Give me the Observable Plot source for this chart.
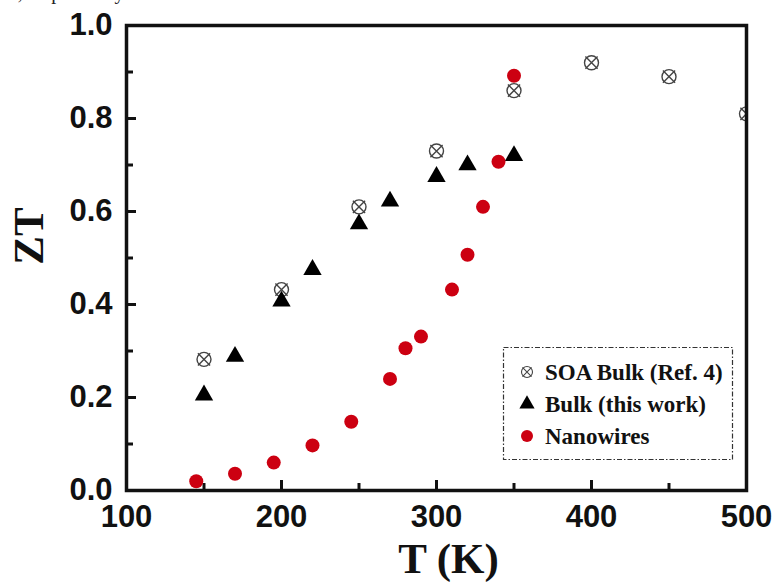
<!DOCTYPE html>
<html><head><meta charset="utf-8">
<script src="https://cdn.jsdelivr.net/npm/d3@7"></script>
<script src="https://cdn.jsdelivr.net/npm/@observablehq/plot@0.6"></script>
<style>
body{margin:0;background:#fff;overflow:hidden}
#wrap{position:relative;width:774px;height:583px;overflow:hidden}
#top{position:absolute;left:12px;top:-19px;font:20px "Liberation Serif";color:#222;white-space:nowrap}
#legend{position:absolute;left:0;top:0;pointer-events:none}
</style></head><body><div id="wrap"><div id="top">r, respectively</div></div>
<script>
// ---- data ----
const soaT  = [150, 200, 250, 300, 350, 400, 450, 500];
const soaZT = [0.282, 0.432, 0.61, 0.73, 0.86, 0.92, 0.89, 0.81];
const bulkT  = [150, 170, 200, 220, 250, 270, 300, 320, 350];
const bulkZT = [0.205, 0.288, 0.407, 0.475, 0.573, 0.622, 0.675, 0.70, 0.72];
const nwT  = [145, 170, 195, 220, 245, 270, 280, 290, 310, 320, 330, 340, 350];
const nwZT = [0.02, 0.036, 0.06, 0.097, 0.148, 0.24, 0.306, 0.331, 0.432, 0.507, 0.61, 0.707, 0.892];
const xMajor = [100, 200, 300, 400, 500];
const xMinor = [150, 250, 350, 450];
const yMajor = [0, 0.2, 0.4, 0.6, 0.8, 1.0];
const yMinor = [0.1, 0.3, 0.5, 0.7, 0.9];
const legendLabels = ["SOA Bulk (Ref. 4)", "Bulk (this work)", "Nanowires"];
const xTitle = "T (K)";
const yTitle = "ZT";

const soa = soaT.map((t, i) => ({T: t, ZT: soaZT[i]}));
const bulk = bulkT.map((t, i) => ({T: t, ZT: bulkZT[i]}));
const nw = nwT.map((t, i) => ({T: t, ZT: nwZT[i]}));

const RED = "#cc0011";
const GRAY = "#444";
const tickFont = {fontSize: 31, fontWeight: "bold", fontFamily: "Liberation Sans, Arial, sans-serif"};
const titleFont = {fontSize: 43, fontWeight: "bold", fontFamily: "Liberation Serif, Times New Roman, serif", fill: "#111", textAnchor: "middle", lineAnchor: "middle"};

const chart = Plot.plot({
  width: 774,
  height: 583,
  marginLeft: 126,
  marginRight: 28,
  marginTop: 25,
  marginBottom: 93,
  style: {background: "transparent", overflow: "visible"},
  x: {domain: [100, 500]},
  y: {domain: [0, 1]},
  marks: [
    // ticks (inward)
    Plot.axisX(xMajor, {tickSize: -10, strokeWidth: 3, stroke: "#111", tickFormat: () => "", label: null}),
    Plot.axisX(xMinor, {tickSize: -7, strokeWidth: 3, stroke: "#111", tickFormat: () => "", label: null}),
    Plot.axisY(yMajor, {tickSize: -10, strokeWidth: 3, stroke: "#111", tickFormat: () => "", label: null}),
    Plot.axisY(yMinor, {tickSize: -7, strokeWidth: 3, stroke: "#111", tickFormat: () => "", label: null}),
    // tick labels
    Plot.axisX(xMajor, {tickSize: 0, tickPadding: 14, tickFormat: d3.format("d"), label: null, fill: "#111", ...tickFont}),
    Plot.axisY(yMajor, {tickSize: 0, tickPadding: 14, tickFormat: d3.format(".1f"), label: null, fill: "#111", ...tickFont}),
    // data
    Plot.dot(soa, {x: "T", y: "ZT", r: 7, fill: "none", stroke: GRAY, strokeWidth: 1.4, clip: true}),
    Plot.dot(soa, {x: "T", y: "ZT", symbol: "times", r: 5.6, stroke: GRAY, strokeWidth: 1.4, clip: true}),
    Plot.dot(bulk, {x: "T", y: "ZT", symbol: "triangle", r: 6.8, fill: "#000", stroke: "none"}),
    Plot.dot(nw, {x: "T", y: "ZT", r: 7, fill: RED, stroke: "none"}),
    Plot.frame({stroke: "#111", strokeWidth: 3.5}),
    // axis titles
    Plot.text([xTitle], {frameAnchor: "bottom", dx: 12, dy: 69, ...titleFont}),
    Plot.text([yTitle], {frameAnchor: "left", dx: -97, dy: -22, rotate: -90, ...titleFont})
  ]
});
chart.style.position = "absolute";
chart.style.left = "0px";
chart.style.top = "0px";
document.getElementById("wrap").appendChild(chart);

// ---- legend ----
const lg = d3.select("#wrap").append("svg").attr("id", "legend")
  .attr("width", 774).attr("height", 583);
lg.append("rect").attr("x", 503.5).attr("y", 347.5).attr("width", 229).attr("height", 112)
  .attr("fill", "none").attr("stroke", "#333").attr("stroke-width", 1.2)
  .attr("stroke-dasharray", "5,2,1.5,2");
const rows = [372, 404, 436];
const sx = 527;
// SOA symbol
lg.append("circle").attr("cx", sx).attr("cy", rows[0]).attr("r", 5.5)
  .attr("fill", "none").attr("stroke", GRAY).attr("stroke-width", 1.1);
lg.append("path").attr("d", d3.symbol(d3.symbolTimes, 55)())
  .attr("transform", `translate(${sx},${rows[0]})`).attr("fill", "none").attr("stroke", GRAY).attr("stroke-width", 1.1);
// triangle
lg.append("path").attr("d", d3.symbol(d3.symbolTriangle, 100)())
  .attr("transform", `translate(${sx},${rows[1]})`).attr("fill", "#000");
// red circle
lg.append("circle").attr("cx", sx).attr("cy", rows[2]).attr("r", 6).attr("fill", RED);
legendLabels.forEach((t, i) => {
  lg.append("text").attr("x", 545).attr("y", rows[i] + 8).text(t)
    .attr("font-family", "Liberation Serif, Times New Roman, serif")
    .attr("font-weight", "bold").attr("font-size", 23).attr("fill", "#111");
});
</script>
</body></html>
